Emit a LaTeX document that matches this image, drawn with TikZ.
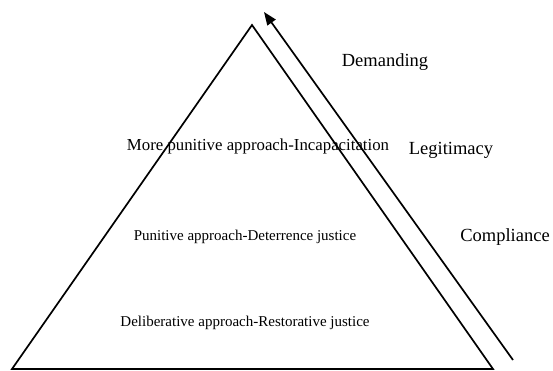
\documentclass[tikz,border=0pt]{standalone}
\usepackage{fontspec}
\setmainfont{Liberation Serif}
\usetikzlibrary{arrows.meta}
\begin{document}
\begin{tikzpicture}[x=1pt,y=-1pt,
  edge/.style={line width=1.7pt,line join=miter},
  levelbox/.style={font=\fontsize{15}{18}\selectfont,inner sep=0pt},
  sidelabel/.style={font=\fontsize{18.5}{22}\selectfont,inner sep=0pt}]
\useasboundingbox (0,0) rectangle (553,371);
% pyramid corners
\coordinate (apex) at (252,25);
\coordinate (bl) at (12,369);
\coordinate (br) at (493,369);
\draw[edge] (bl) -- (apex) -- (br) -- cycle;
% rising arrow along the right side
\coordinate (arrowstart) at (513,360);
\coordinate (arrowend) at (264,12);
\draw[line width=1.7pt,-{Triangle[length=13pt,width=10pt]}] (arrowstart) -- (arrowend);
% levels of the pyramid
\node[levelbox,font=\fontsize{16.8}{20}\selectfont] (top) at (258,146) {More punitive approach-Incapacitation};
\node[levelbox] (mid) at (245,237) {Punitive approach-Deterrence justice};
\node[levelbox] (low) at (245,323) {Deliberative approach-Restorative justice};
% labels beside the arrow
\node[sidelabel] (demanding) at (385,62) {Demanding};
\node[sidelabel] (legitimacy) at (451,150) {Legitimacy};
\node[sidelabel] (compliance) at (505,237) {Compliance};
\end{tikzpicture}
\end{document}
